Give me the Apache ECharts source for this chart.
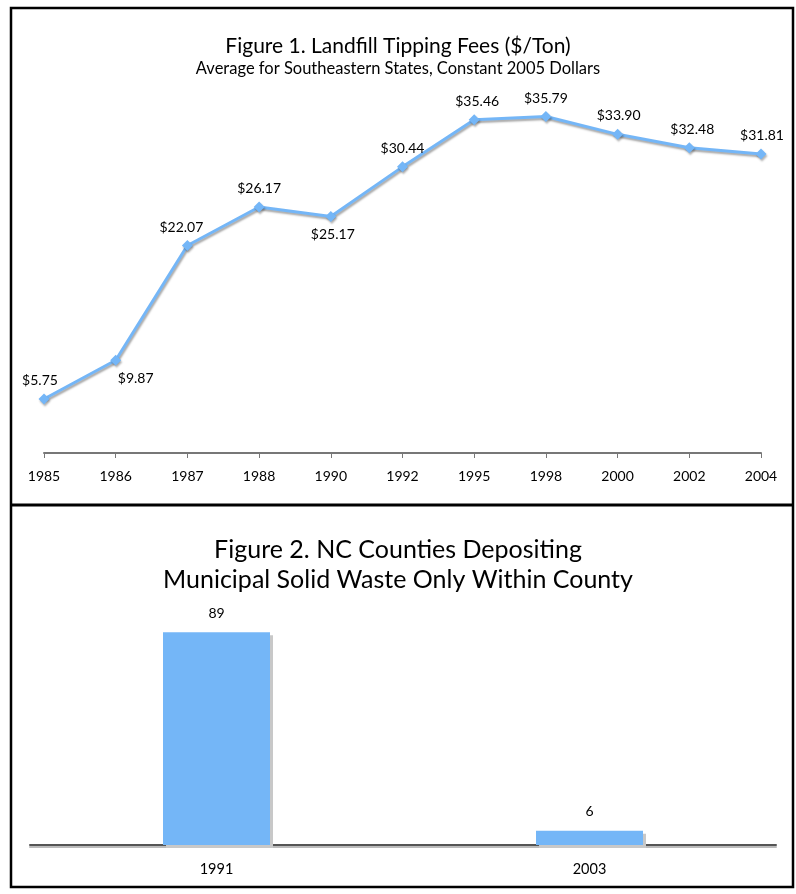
<!DOCTYPE html>
<html>
<head>
<meta charset="utf-8">
<script src="https://cdn.jsdelivr.net/npm/echarts@6/dist/echarts.min.js"></script>
<style>
  html, body { margin: 0; padding: 0; background: #fff; }
  #chart { width: 796px; height: 894px; }
</style>
</head>
<body>
<div id="chart"></div>
<script>
// Figure 1 data
const feeYears = ["1985", "1986", "1987", "1988", "1990", "1992", "1995", "1998", "2000", "2002", "2004"];
const feeValues = [5.75, 9.87, 22.07, 26.17, 25.17, 30.44, 35.46, 35.79, 33.90, 32.48, 31.81];

// Figure 2 data
const countyYears = ["1991", "2003"];
const countyValues = [89, 6];

const FONT = "Lato";
const BLUE = "#74b6f7";

// where each price label sits relative to its point
const labelSpots = [
    { position: "top", offset: [-4, 0] },
    { position: "bottom", offset: [20, 0] },
    { position: "top", offset: [-6, 0] },
    { position: "top", offset: [0, 0] },
    { position: "bottom", offset: [2, 0] },
    { position: "top", offset: [0, 0] },
    { position: "top", offset: [3, 0] },
    { position: "top", offset: [0, 0] },
    { position: "top", offset: [1, 0] },
    { position: "top", offset: [3, 0] },
    { position: "top", offset: [1, 0] }
];

const chart = echarts.init(document.getElementById("chart"), null, { renderer: "canvas" });

const titleText = (txt, top, size) => ({
    text: txt,
    left: "center",
    top: top,
    textStyle: { fontFamily: FONT, fontSize: size, fontWeight: "normal", color: "#000" }
});

const option = {
    animation: false,
    backgroundColor: "#fff",
    textStyle: { fontFamily: FONT },
    title: [
        titleText("Figure 1. Landfill Tipping Fees ($/Ton)", 31, 21),
        titleText("Average for Southeastern States, Constant 2005 Dollars", 55, 16.5),
        titleText("Figure 2. NC Counties Depositing", 532, 25),
        titleText("Municipal Solid Waste Only Within County", 562, 25)
    ],
    grid: [
        { left: 44, right: 35, top: 77, height: 376 },
        { left: 30, right: 20, top: 606, height: 239 }
    ],
    xAxis: [
        {
            type: "category",
            gridIndex: 0,
            data: feeYears,
            boundaryGap: false,
            axisLine: { lineStyle: { color: "#777", width: 2 } },
            axisTick: { show: true, length: 5, lineStyle: { color: "#777", width: 1 } },
            axisLabel: { color: "#000", fontSize: 14, margin: 16, fontFamily: FONT }
        },
        {
            type: "category",
            gridIndex: 1,
            data: countyYears,
            axisLine: {
                lineStyle: { color: "#555", width: 2, shadowColor: "#bbb", shadowOffsetY: 2 }
            },
            axisTick: { show: false },
            axisLabel: { color: "#000", fontSize: 14.5, margin: 17, fontFamily: FONT }
        }
    ],
    yAxis: [
        { type: "value", gridIndex: 0, min: 0, max: 40, show: false },
        { type: "value", gridIndex: 1, min: 0, max: 100, show: false }
    ],
    series: [
        {
            type: "line",
            xAxisIndex: 0,
            yAxisIndex: 0,
            data: feeValues.map((v, i) => ({
                value: v,
                label: labelSpots[i]
            })),
            symbol: "diamond",
            symbolSize: 11,
            lineStyle: {
                color: BLUE,
                width: 3,
                shadowColor: "rgba(0,0,0,0.35)",
                shadowBlur: 2,
                shadowOffsetX: 1,
                shadowOffsetY: 2
            },
            itemStyle: {
                color: BLUE,
                shadowColor: "rgba(0,0,0,0.3)",
                shadowBlur: 2,
                shadowOffsetX: 1,
                shadowOffsetY: 2
            },
            label: {
                show: true,
                distance: 6,
                color: "#000",
                fontSize: 14,
                fontFamily: FONT,
                formatter: p => "$" + p.value.toFixed(2)
            }
        },
        {
            type: "bar",
            xAxisIndex: 1,
            yAxisIndex: 1,
            data: countyValues,
            barWidth: 107,
            itemStyle: {
                color: BLUE,
                shadowColor: "#c8c8c8",
                shadowOffsetX: 3,
                shadowOffsetY: 3,
                shadowBlur: 0
            },
            label: {
                show: true,
                position: "top",
                distance: 12,
                color: "#000",
                fontSize: 14,
                fontFamily: FONT
            }
        }
    ],
    graphic: [
        {
            type: "rect",
            shape: { x: 11, y: 8, width: 782, height: 879 },
            style: { fill: "none", stroke: "#000", lineWidth: 2.5 },
            silent: true
        },
        {
            type: "line",
            shape: { x1: 11, y1: 505, x2: 793, y2: 505 },
            style: { stroke: "#000", lineWidth: 3 },
            silent: true
        }
    ]
};

chart.setOption(option);
</script>
</body>
</html>
